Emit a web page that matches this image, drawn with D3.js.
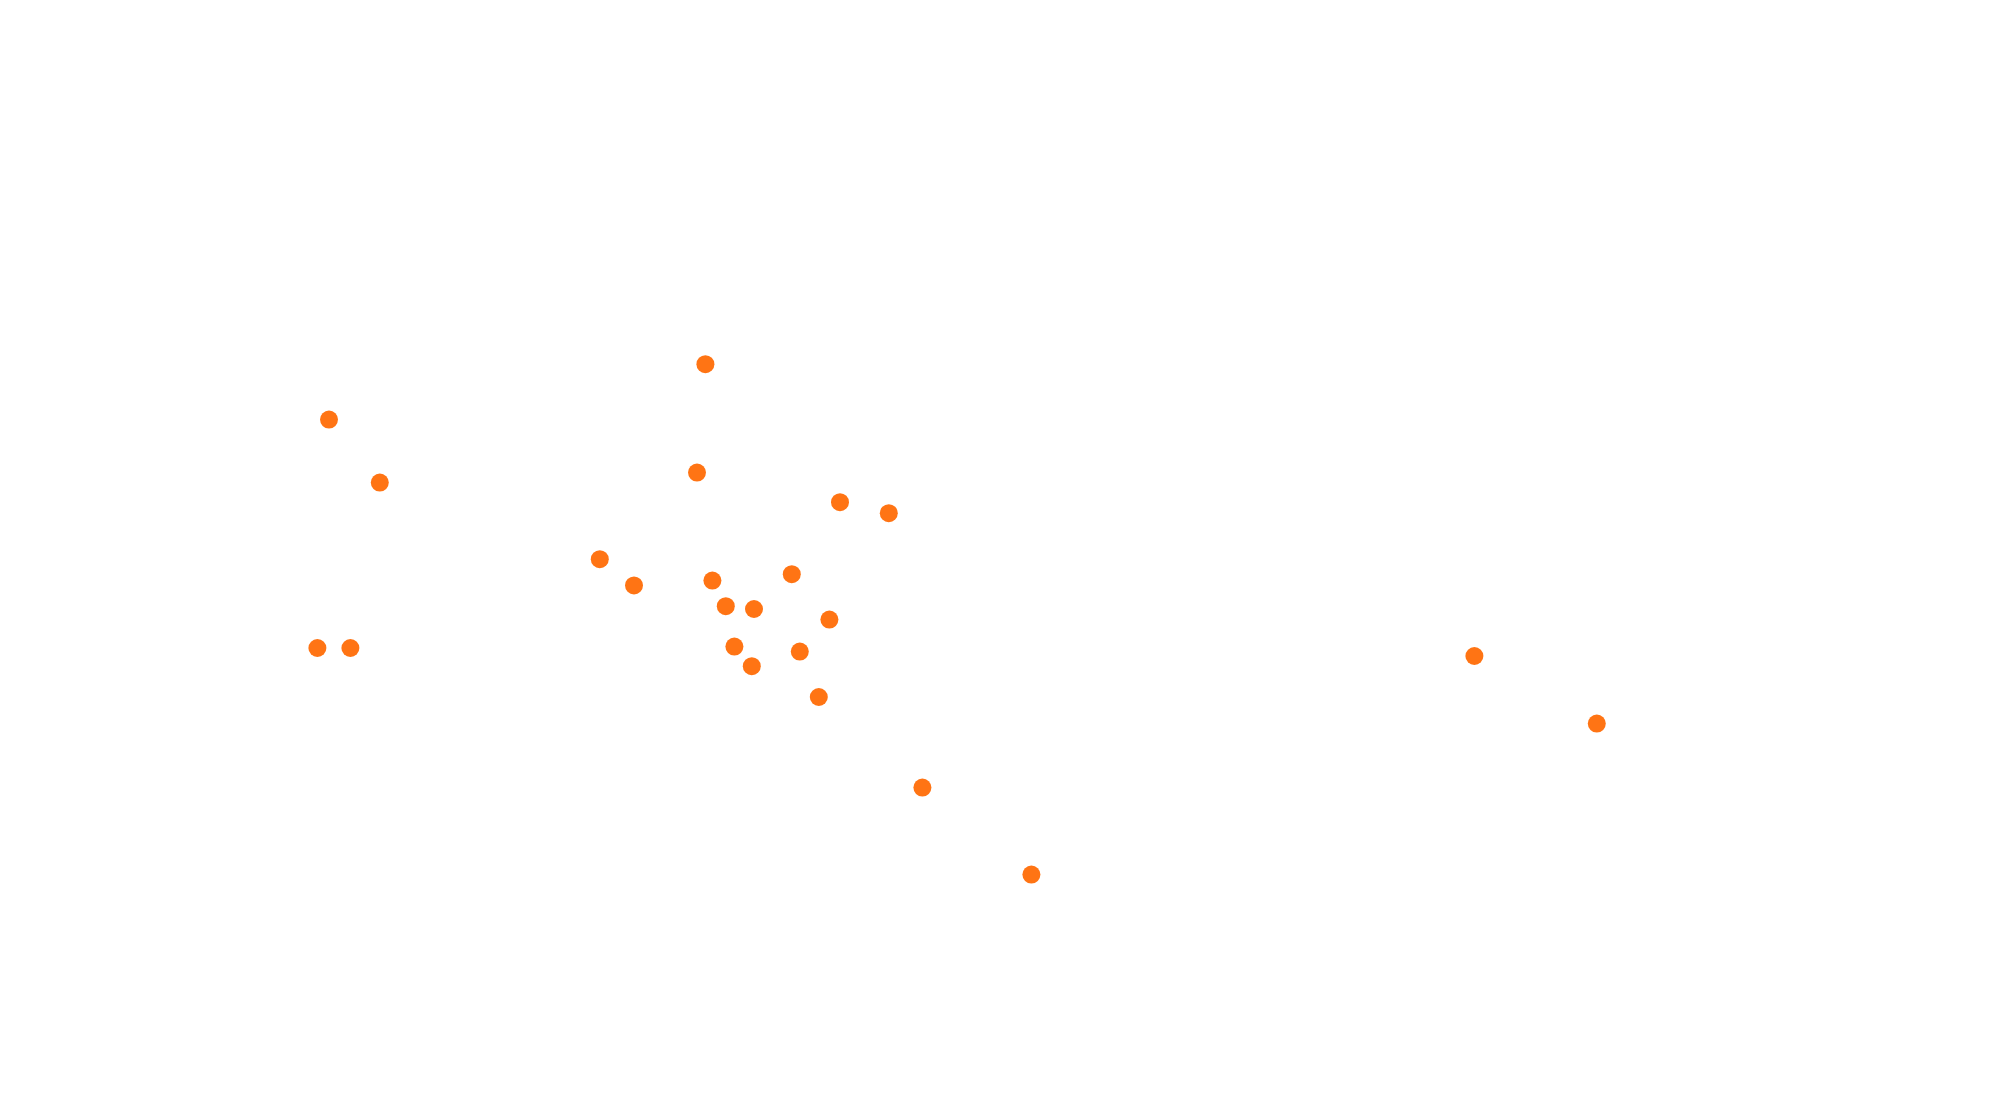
<!DOCTYPE html>
<html>
<head>
<meta charset="utf-8">
<script src="https://cdn.jsdelivr.net/npm/d3@7"></script>
<style>
html,body{margin:0;padding:0;background:#fff;overflow:hidden;}
svg{display:block;}
</style>
</head>
<body>
<svg id="chart" width="2000" height="1101"></svg>
<script>
const xValues = [35.27,16.45,18.99,34.85,42.0,44.44,29.99,31.7,35.62,39.59,36.29,37.7,41.47,15.87,17.52,36.72,39.99,37.59,40.94,46.12,51.57,73.72,79.84];
const yValues = [36.84,34.07,30.92,31.42,29.94,29.39,27.09,25.78,26.02,26.34,24.74,24.6,24.07,22.65,22.65,22.72,22.47,21.74,20.2,15.67,11.32,22.25,18.87];

const W = 2000, H = 1101;
const svg = d3.select("#chart");
const x = d3.scaleLinear().domain([0, 100]).range([0, W]);
const y = d3.scaleLinear().domain([0, 55.05]).range([H, 0]);

const pts = xValues.map((v, i) => ({x: v, y: yValues[i]}));

svg.append("g")
  .selectAll("circle")
  .data(pts)
  .join("circle")
  .attr("cx", d => x(d.x))
  .attr("cy", d => y(d.y))
  .attr("r", 9)
  .attr("fill", "#ff7414");
</script>
</body>
</html>
